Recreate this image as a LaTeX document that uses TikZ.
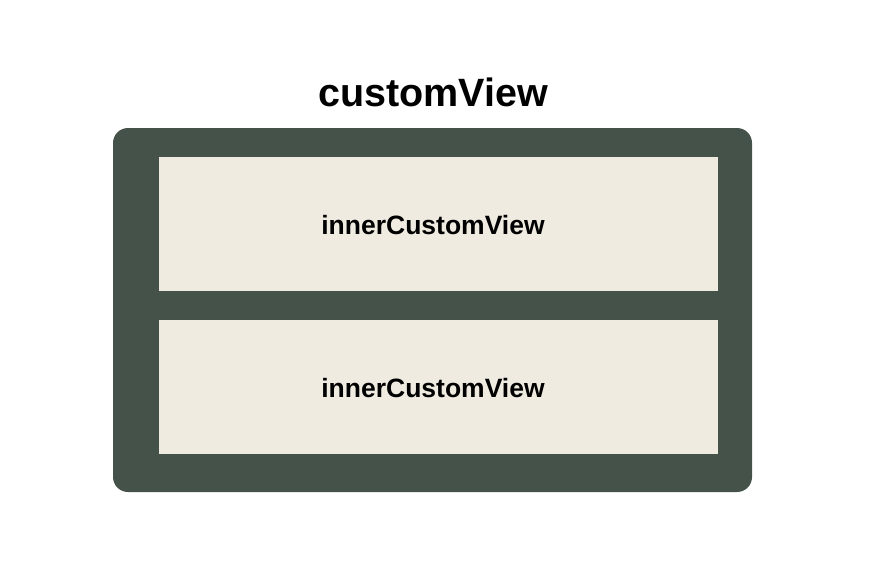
\documentclass[tikz,border=0pt]{standalone}
\usepackage{fontspec}
\setmainfont{Liberation Sans}
\definecolor{viewgreen}{HTML}{44524A}
\definecolor{viewcream}{HTML}{F0EBE1}

\begin{document}
\begin{tikzpicture}[x=1pt, y=-1pt,
    outerview/.style={fill=viewgreen, rounded corners=15pt, minimum width=639pt, minimum height=364pt, inner sep=0pt},
    innerview/.style={fill=viewcream, minimum width=559pt, minimum height=134pt, inner sep=0pt},
    viewlabel/.style={font=\fontsize{26.5}{30}\selectfont\bfseries}]
  \useasboundingbox (0,0) rectangle (890,566);
  \node[outerview] (customView) at (432.5,310) {};
  \node[innerview] (innerTop) at (438.5,224) {};
  \node[innerview] (innerBottom) at (438.5,387) {};
  \node[viewlabel] (innerTopLabel) at (433,225) {innerCustomView};
  \node[viewlabel] (innerBottomLabel) at (433,388) {innerCustomView};
  \node[font=\fontsize{39.5}{44}\selectfont\bfseries, anchor=base] (title) at (433,106) {customView};
\end{tikzpicture}
\end{document}
